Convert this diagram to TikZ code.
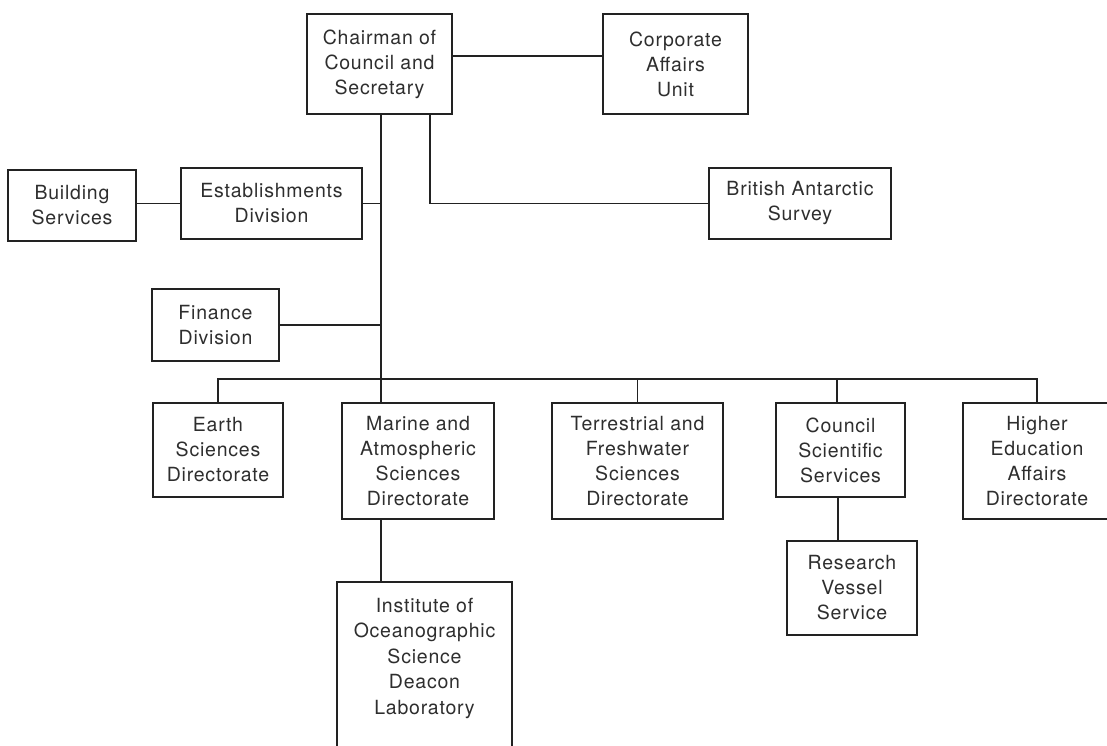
\documentclass[tikz,border=0pt]{standalone}
\usepackage{fontspec}
\setmainfont{TeX Gyre Heros}[LetterSpace=4]
\definecolor{ink}{HTML}{222222}
\definecolor{txt}{HTML}{2E2E2E}
\begin{document}
\begin{tikzpicture}[x=1pt,y=-1pt,
  orgbox/.style={draw=ink, line width=1.8pt, inner sep=0pt, align=center,
    text=txt, font=\fontsize{19.5pt}{25pt}\selectfont},
  link/.style={draw=ink, line width=1.8pt, line cap=rect}]
\useasboundingbox (0,0) rectangle (1107,745);
\fill[white] (0,0) rectangle (1107,745);
\clip (0,0) rectangle (1107,745);

% top level
\node[orgbox, minimum width=145pt, minimum height=100pt] (chair) at (379.5,64) {Chairman of\\Council and\\Secretary};
\node[orgbox, minimum width=145pt, minimum height=100pt] (corp) at (675.5,64) {Corporate\\Affairs\\Unit};
\node[orgbox, minimum width=182pt, minimum height=71pt] (brit) at (800,203.5) {British Antarctic\\Survey};

% divisions on the left of the trunk
\node[orgbox, minimum width=181pt, minimum height=71pt] (estab) at (271.5,203.5) {Establishments\\Division};
\node[orgbox, minimum width=128pt, minimum height=71pt] (build) at (72,205.5) {Building\\Services};
\node[orgbox, minimum width=127pt, minimum height=72pt] (fin) at (215.5,325) {Finance\\Division};

% directorates
\node[orgbox, minimum width=130pt, minimum height=94pt] (earth) at (218,450) {Earth\\Sciences\\Directorate};
\node[orgbox, minimum width=152pt, minimum height=116pt] (marine) at (418,461) {Marine and\\Atmospheric\\Sciences\\Directorate};
\node[orgbox, minimum width=171pt, minimum height=116pt] (terr) at (637.5,461) {Terrestrial and\\Freshwater\\Sciences\\Directorate};
\node[orgbox, minimum width=129pt, minimum height=94pt] (council) at (840.5,450) {Council\\Scientific\\Services};
\node[orgbox, minimum width=148pt, minimum height=116pt] (higher) at (1037,461) {Higher\\Education\\Affairs\\Directorate};

% units below the directorates
\node[orgbox, minimum width=130pt, minimum height=94pt] (research) at (852,588) {Research\\Vessel\\Service};
\node[orgbox, anchor=north] (inst) at (424.5,581)
  {\parbox[c][190pt][t]{175pt}{\centering\fontsize{19.5pt}{25.5pt}\selectfont\vspace{16pt}%
   Institute of\\Oceanographic\\Science\\Deacon\\Laboratory}};

% trunk and bus
\coordinate (bus) at (381,379);
\draw[link] (chair.south -| bus) -- (marine.north -| bus);
\draw[link] (earth.north |- bus) -- (higher.north |- bus);

% side branches
\draw[link] ([yshift=8pt]chair.east) -- ([yshift=8pt]corp.west);
\draw[link] ([xshift=50.5pt]chair.south) |- (brit.west);
\draw[link] (estab.east) -- (estab.east -| bus);
\draw[link] (estab.west) -- (estab.west -| build.east);
\draw[link] (fin.east) -- (fin.east -| bus);

% drops from the bus
\draw[link] (earth.north) -- (earth.north |- bus);
\draw[link] (terr.north) -- (terr.north |- bus);
\draw[link] ([xshift=-3.5pt]council.north) -- ([xshift=-3.5pt]council.north |- bus);
\draw[link] (higher.north) -- (higher.north |- bus);

% lower links
\draw[link] (marine.south -| bus) -- (inst.north -| bus);
\draw[link] ([xshift=-2.5pt]council.south) -- ([xshift=-2.5pt]council.south |- research.north);
\end{tikzpicture}
\end{document}
